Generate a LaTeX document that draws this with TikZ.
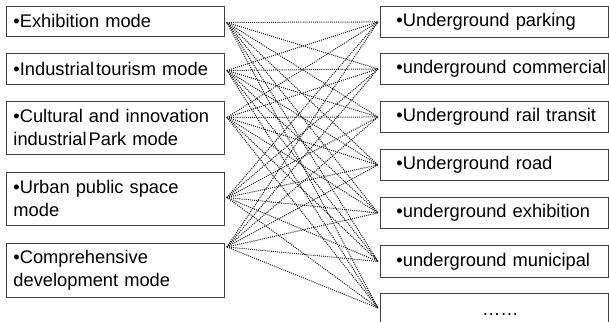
\documentclass[tikz,border=0pt]{standalone}
\usepackage{fontspec}
\setmainfont{Liberation Sans}
\usetikzlibrary{positioning}
\tikzset{
  box/.style={draw=black!75, line width=0.9pt, rectangle, anchor=north west, align=left, inner ysep=0pt, font=\fontsize{18.3}{23}\selectfont},
  modebox/.style={box, minimum width=218pt, text width=204pt, inner xsep=7pt},
  spacebox/.style={box, minimum width=228pt, text width=220pt, inner xsep=4pt, minimum height=31pt, execute at begin node=\hspace*{12pt}},
  link/.style={black!90, line width=1pt, dash pattern=on 1pt off 1.1pt}
}

\begin{document}
\begin{tikzpicture}[x=1pt, y=-1pt]
\useasboundingbox (0,0) rectangle (609,321);
\node[modebox, minimum height=30pt] (exh) at (6,6) {•Exhibition mode};
\node[modebox, minimum height=31pt] (ind) at (6,53) {•Industrial\kern2pt tourism mode};
\node[modebox, minimum height=53pt] (cul) at (6,101) {•Cultural and innovation\\industrial\kern2pt Park mode};
\node[modebox, minimum height=53pt] (urb) at (6,172) {•Urban public space\\mode};
\node[modebox, minimum height=54pt] (com) at (6,243) {•Comprehensive\\development mode};
\node[spacebox] (park) at (380,6) {•Underground parking};
\node[spacebox] (comm) at (380,53) {\mbox{•underground commercial}};
\node[spacebox] (rail) at (380,101) {•Underground rail transit};
\node[spacebox] (road) at (380,149) {•Underground road};
\node[spacebox] (exhib) at (380,197) {•underground exhibition};
\node[spacebox, minimum height=32pt] (muni) at (380,245) {•underground municipal};
\node[spacebox, minimum height=42pt, align=center, execute at begin node={}] (more) at (380,293) {……};
\coordinate (exh-o) at ([xshift=2pt,yshift=-1pt]exh.east);
\coordinate (ind-o) at ([xshift=2pt,yshift=-1.5pt]ind.east);
\coordinate (cul-o) at ([xshift=2pt,yshift=10.5pt]cul.east);
\coordinate (urb-o) at ([xshift=2pt,yshift=1.5pt]urb.east);
\coordinate (com-o) at ([xshift=2pt,yshift=-4pt]com.north east);
\foreach \b in {park,comm,rail,road,exhib,muni}
  \coordinate (\b-i) at ([xshift=-2pt]\b.west);
\coordinate (more-i) at ([xshift=-2pt,yshift=-15pt]more.north west);
\foreach \a in {exh,ind,cul,urb,com}
  \foreach \b in {park,comm,rail,road,exhib,muni,more}
    \draw[link] (\a-o) -- (\b-i);
\end{tikzpicture}
\end{document}
